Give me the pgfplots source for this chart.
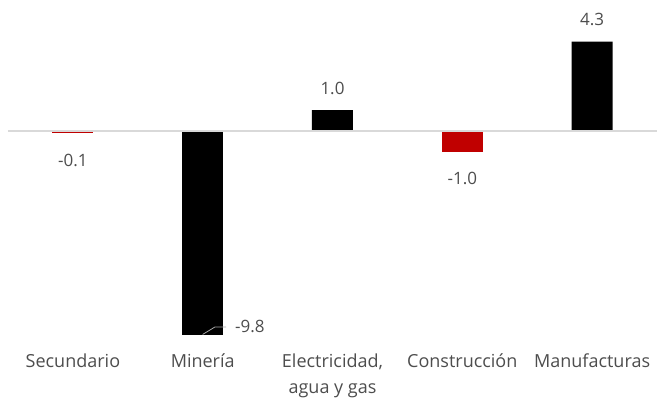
\documentclass[border=0pt]{standalone}
\usepackage{pgfplots}
\pgfplotsset{compat=1.18}
\usepackage{fontspec}
\setmainfont{Open Sans}
\definecolor{txt}{HTML}{4D4D4D}
\definecolor{barred}{HTML}{C00000}
\definecolor{zeroline}{HTML}{D9D9D9}
\definecolor{leader}{HTML}{A6A6A6}
\begin{document}
\begin{tikzpicture}[x=1pt,y=1pt]
\useasboundingbox (0,0) rectangle (657,403);
\begin{axis}[
    at={(8pt,64pt)}, anchor=south west,
    scale only axis,
    width=649pt, height=312pt,
    xmin=-0.5, xmax=4.5,
    ymin=-10, ymax=5,
    axis line style={draw=none},
    ytick=\empty,
    xtick={0,1,2,3,4},
    xticklabels={Secundario, Minería, {Electricidad,\\agua y gas}, Construcción, Manufacturas},
    major tick length=0pt,
    xticklabel style={font=\fontsize{18}{26}\selectfont, text=txt, align=center, yshift=-11pt},
    ybar, bar width=41pt, bar shift=0pt,
    /pgf/number format/assume math mode=true,
    /pgf/number format/.cd, fixed, fixed zerofill, precision=1, /pgfplots/.cd,
    nodes near coords,
    every node near coord/.append style={font=\fontsize{17}{20}\selectfont, text=txt},
    clip=false,
]
\addplot[fill=barred, draw=none,
    every node near coord/.append style={anchor=center, yshift=-27pt}]
    coordinates {(0,-0.1)};
\addplot[fill=black, draw=none, nodes near coords={}]
    coordinates {(1,-9.8)};
\addplot[fill=black, draw=none,
    every node near coord/.append style={anchor=center, yshift=22pt}]
    coordinates {(2,1.0) (4,4.3)};
\addplot[fill=barred, draw=none,
    every node near coord/.append style={anchor=center, yshift=-27pt}]
    coordinates {(3,-1.0)};
\draw[zeroline, line width=1.5pt] (axis cs:-0.5,0) -- (axis cs:4.5,0);
\draw[leader, line width=0.8pt] (axis cs:1.0,-9.78) -- (axis cs:1.095,-9.42) -- (axis cs:1.18,-9.42);
\node[anchor=west, font=\fontsize{17}{20}\selectfont, text=txt, inner sep=0pt] at (axis cs:1.249,-9.42) {-9.8};
\end{axis}
\end{tikzpicture}
\end{document}
